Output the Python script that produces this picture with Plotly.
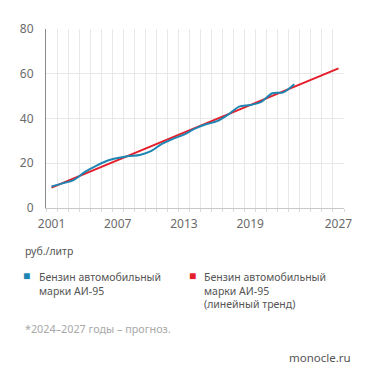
import plotly.graph_objects as go

years = list(range(2001, 2024))
price_ai95 = [9.6, 11.0, 12.5, 16.0, 18.7, 21.0, 22.3, 23.2, 23.7, 25.4, 28.7, 30.9,
              32.8, 35.5, 37.4, 38.8, 41.7, 45.3, 46.0, 47.4, 51.3, 51.7, 55.3]
trend_years = [2001, 2027]
trend_values = [9.1, 62.4]

x_ticks = [2001, 2007, 2013, 2019, 2027]
y_ticks = [0, 20, 40, 60, 80]

BLUE = "#1f86b3"
RED = "#e31e2a"
FONT = "Noto Sans"
TXT = "#555555"

fig = go.Figure()
fig.add_trace(go.Scatter(x=trend_years, y=trend_values, mode="lines",
                         line=dict(color=RED, width=2), showlegend=False, hoverinfo="skip"))
fig.add_trace(go.Scatter(x=years, y=price_ai95, mode="lines",
                         line=dict(color=BLUE, width=2, shape="spline", smoothing=0.8),
                         showlegend=False))

# page has 8px body margin: figure origin at (8, 8)
fig.update_layout(
    width=363, height=376,
    margin=dict(l=33, r=27, t=15, b=176),
    paper_bgcolor="white", plot_bgcolor="white",
    font=dict(family=FONT, size=12, color="#6b6b6b"),
    xaxis=dict(range=[2000.5, 2027.5], tickvals=x_ticks, ticktext=[str(v) for v in x_ticks],
               showgrid=False, zeroline=False, showline=True, linecolor="#c8c8c8", linewidth=1,
               ticks="", ticklabelstandoff=5,
               minor=dict(tick0=2000.5, dtick=1, showgrid=True, gridcolor="#e8e8e8", gridwidth=1,
                          ticks="outside", ticklen=3, tickcolor="#d8d8d8"),
               tickfont=dict(size=12, color="#6b6b6b"), fixedrange=True),
    yaxis=dict(range=[0, 80], tickvals=y_ticks, showgrid=True, gridcolor="#e8e8e8", gridwidth=1,
               zeroline=False, showline=True, linecolor="#8a8a8a", linewidth=1, ticks="",
               ticklabelstandoff=9,
               tickfont=dict(size=12, color="#6b6b6b"), fixedrange=True),
)


def px(x):
    return (x - 41) / 303


def py(y):
    return 1 - (y - 23) / 185


ann = [
    ("руб./литр", 18, 252, 10.5, TXT, "left"),
    ("■", 16, 278, 12, BLUE, "left"),
    ("Бензин автомобильный<br>марки АИ-95", 32, 286.5, 10.5, TXT, "left"),
    ("■", 184, 278, 12, RED, "left"),
    ("Бензин автомобильный<br>марки АИ-95<br>(линейный тренд)", 200, 293, 10.5, TXT, "left"),
    ("*2024–2027 годы – прогноз.", 18, 333, 10.8, "#a8a8a8", "left"),
    ("monocle.ru", 353, 362, 11.5, TXT, "right"),
]
for text, x, y, size, color, anchor in ann:
    fig.add_annotation(text=text, xref="paper", yref="paper", x=px(x), y=py(y),
                       xanchor=anchor, yanchor="middle", align=anchor, showarrow=False,
                       font=dict(family=FONT, size=size, color=color))

fig.write_html("out.html")
